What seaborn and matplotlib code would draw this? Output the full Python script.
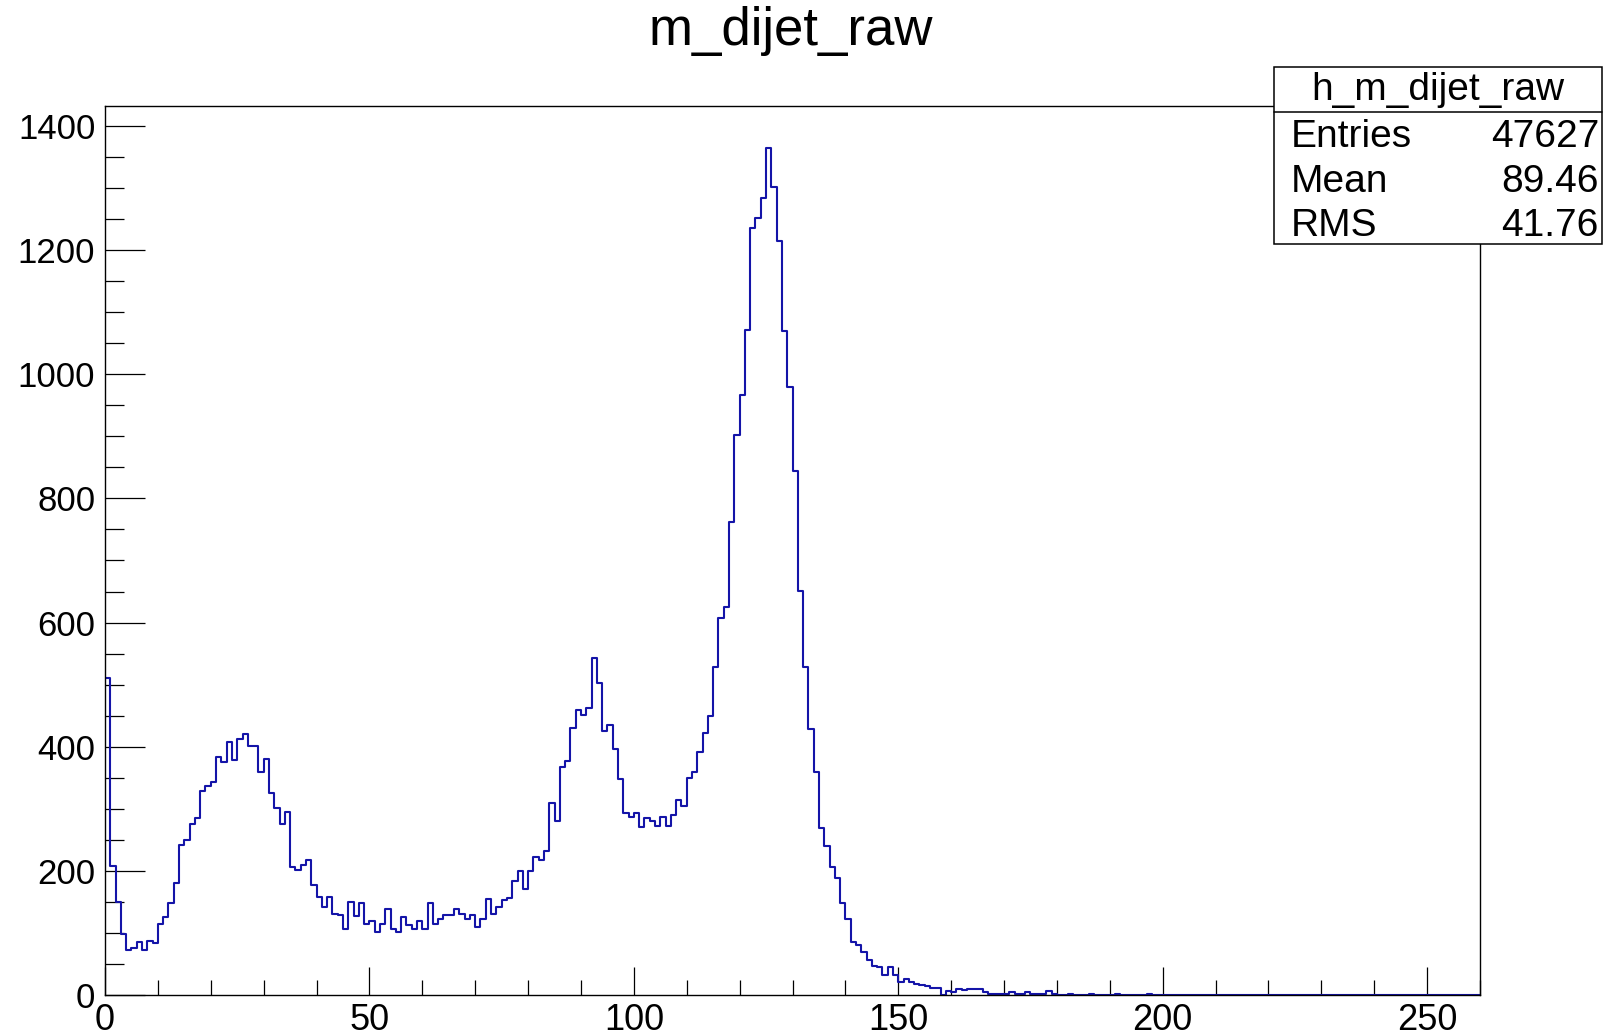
import numpy as np
import pandas as pd
import matplotlib
matplotlib.use("Agg")
import matplotlib.pyplot as plt
from matplotlib.patches import Rectangle
from matplotlib.lines import Line2D
from matplotlib.ticker import MultipleLocator
import seaborn as sns

# ---- data (1 GeV bins from 0 to 260) ----
counts_0_49 = [511, 208, 150, 99, 73, 75, 85, 73, 87, 83,
               114, 126, 148, 181, 241, 250, 275, 285, 328, 336,
               343, 384, 376, 408, 378, 413, 420, 401, 401, 359,
               380, 326, 302, 275, 295, 206, 201, 210, 218, 177,
               158, 141, 158, 131, 129, 106, 150, 128, 148, 114]
counts_50_99 = [119, 102, 115, 138, 107, 102, 126, 112, 106, 119,
                106, 148, 114, 122, 129, 129, 138, 131, 122, 129,
                109, 122, 155, 131, 141, 153, 156, 184, 199, 170,
                199, 223, 218, 232, 310, 281, 368, 377, 430, 459,
                451, 463, 543, 503, 425, 435, 396, 348, 293, 287]
counts_100_149 = [293, 270, 285, 281, 273, 287, 273, 290, 314, 304,
                  350, 360, 391, 422, 449, 529, 608, 625, 762, 902,
                  966, 1072, 1236, 1251, 1284, 1364, 1301, 1215, 1070, 979,
                  844, 651, 529, 429, 360, 269, 240, 207, 189, 149,
                  122, 86, 80, 69, 56, 47, 45, 32, 45, 32]
counts_150_199 = [21, 25, 21, 18, 16, 14, 12, 11, 0, 6,
                  5, 10, 8, 10, 10, 10, 5, 2, 2, 2,
                  2, 5, 2, 2, 5, 2, 2, 2, 6, 2,
                  0, 0, 1, 0, 0, 0, 1, 0, 0, 0,
                  0, 1, 0, 0, 0, 0, 0, 1, 0, 0]
counts_200_259 = [0] * 60

x_min, x_max, bin_width = 0, 260, 1
x_ticks = [0, 50, 100, 150, 200, 250]
y_ticks = [0, 200, 400, 600, 800, 1000, 1200, 1400]
title = "m_dijet_raw"
stats_name = "h_m_dijet_raw"
stats_labels = ["Entries", "Mean", "RMS"]
stats_values = ["47627", "89.46", "41.76"]

counts = counts_0_49 + counts_50_99 + counts_100_149 + counts_150_199 + counts_200_259
centers = np.arange(x_min, x_max, bin_width) + bin_width / 2
df = pd.DataFrame({"m": centers, "n": counts})

# ---- figure ----
sns.set_style("white")
plt.rcParams["font.family"] = ["Liberation Sans", "DejaVu Sans"]
plt.rcParams["text.color"] = "black"
plt.rcParams["xtick.color"] = "black"
plt.rcParams["ytick.color"] = "black"

W, H = 1604, 1036
fig = plt.figure(figsize=(W / 100, H / 100), dpi=100)
L, R, T, B = 105, 1480, 106, 995
ax = fig.add_axes([L / W, 1 - B / H, (R - L) / W, (B - T) / H])

sns.histplot(data=df, x="m", weights="n", binwidth=bin_width, binrange=(x_min, x_max),
             element="step", fill=False, color="#1414a8", linewidth=1.5, ax=ax)

ax.set_xlim(x_min, x_max)
ax.set_ylim(0, 1.05 * max(counts))
ax.set_xlabel("")
ax.set_ylabel("")
ax.set_xticks(x_ticks)
ax.set_yticks(y_ticks)
ax.xaxis.set_minor_locator(MultipleLocator(10))
ax.yaxis.set_minor_locator(MultipleLocator(50))
ax.tick_params(axis="both", which="both", direction="in", colors="black",
               width=0.9, top=False, right=False,
               bottom=True, left=True, labelcolor="black")
ax.tick_params(axis="y", which="major", length=28.5, pad=7, labelsize=25)
ax.tick_params(axis="y", which="minor", length=13.5)
ax.tick_params(axis="x", which="major", length=20, pad=6, labelsize=26)
ax.tick_params(axis="x", which="minor", length=10.5)
for s in ax.spines.values():
    s.set_visible(True)
    s.set_color("black")
    s.set_linewidth(1.0)

fig.text(791 / W, 1 - 31 / H, title, ha="center", va="center", fontsize=38, color="black")

# stats box
bx0, by0, bx1, by1 = 1274, 67, 1602, 244
fig.add_artist(Rectangle((bx0 / W, 1 - by1 / H), (bx1 - bx0) / W, (by1 - by0) / H,
                         transform=fig.transFigure, facecolor="white",
                         edgecolor="black", linewidth=1.1, zorder=5))
fig.add_artist(Line2D([bx0 / W, bx1 / W], [1 - 112 / H, 1 - 112 / H],
                      transform=fig.transFigure, color="black", linewidth=1.1, zorder=6))
fig.text((bx0 + bx1) / 2 / W, 1 - 90 / H, stats_name, ha="center", va="center",
         fontsize=28, color="black", zorder=7)
for i, (lab, val) in enumerate(zip(stats_labels, stats_values)):
    yy = 1 - (137 + 44.5 * i) / H
    fig.text(1291 / W, yy, lab, ha="left", va="center", fontsize=28, color="black", zorder=7)
    fig.text(1599 / W, yy, val, ha="right", va="center", fontsize=28, color="black", zorder=7)

fig.savefig("out.png", dpi=100)
